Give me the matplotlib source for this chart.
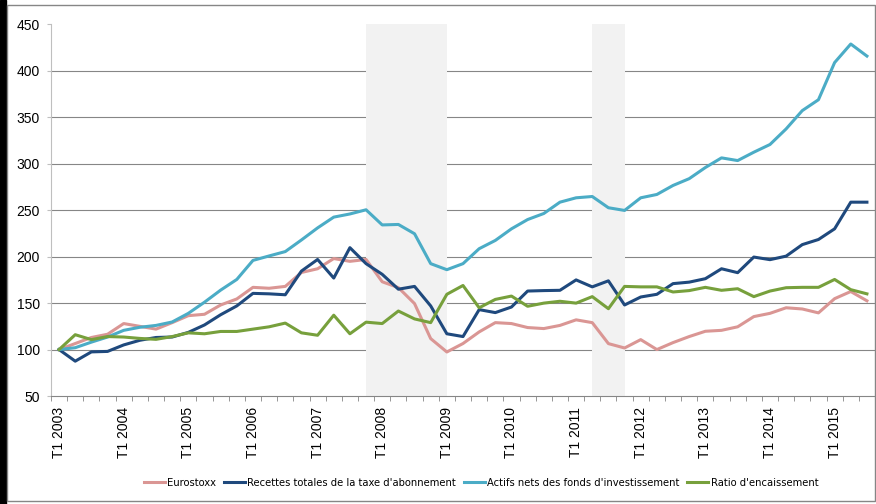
import matplotlib.pyplot as plt
from matplotlib.patches import Rectangle

# Trimestres T1 2003 -> T3 2015
trimestres = [f"T{q} {a}" for a in range(2003, 2016) for q in range(1, 5)][:51]

eurostoxx = [100, 106.5, 113, 116.5, 128, 125, 122, 129, 136.5, 138,
             148, 154.5, 167, 166, 168, 183, 187, 198, 195, 197,
             173, 166.7, 149.5, 111.8, 97.4, 106.5, 119, 129, 128, 123.7,
             122.6, 126, 132, 129, 106.4, 101.7, 110.7, 100, 107.5, 114,
             119.7, 120.7, 124.5, 135.5, 139, 145, 143.7, 139.5, 154.8, 162.5,
             152.5]
recettes = [100, 87.5, 97.5, 98, 105, 110, 113, 113.5, 118.5, 126.5,
            137.5, 147, 160.5, 160, 159, 184.5, 197, 177, 209.7, 192.5,
            181, 165, 168, 147, 117, 114, 143, 139.8, 145.8, 163,
            163.5, 163.8, 175, 167.5, 174, 148, 156.6, 159.5, 171, 172.6,
            176.3, 187, 182.8, 199.6, 196.8, 200.6, 213, 218.5, 230, 258.7,
            258.7]
actifs = [100, 102, 108, 113.5, 120.7, 124, 126, 129.7, 139, 151,
          164, 175.5, 196, 200.8, 205.5, 218, 231, 242.6, 246, 250.5,
          234.2, 234.7, 224.7, 192.5, 186, 192.5, 208.6, 217.5, 230, 240,
          246.5, 258.7, 263.4, 264.8, 252.7, 249.8, 263.4, 267, 276.7, 284,
          296, 306.4, 303.5, 312.5, 320.8, 337.6, 357.3, 369, 409, 429,
          416]
ratio = [100, 116, 110.7, 114, 113.5, 112, 111, 114, 118, 117,
         119.5, 119.5, 122, 124.5, 128.5, 118, 115.4, 137, 117, 129.5,
         128, 141.5, 133, 129, 159.5, 169, 145, 154, 157.6, 146.6,
         150, 152, 150, 157, 144, 168, 167.5, 167.5, 162, 163.5,
         167, 163.8, 165.5, 157, 163, 166.6, 167, 167, 175.5, 164.5,
         160]

# Periodes de crise (index des trimestres)
crises = [(19, 24), (33, 35)]

noms = ["Eurostoxx", "Recettes totales de la taxe d'abonnement",
        "Actifs nets des fonds d'investissement", "Ratio d'encaissement"]
couleurs = ['#DA9694', '#1F497D', '#4BACC6', '#77A03C']

plt.rcParams['font.family'] = ['Liberation Sans', 'DejaVu Sans']

fig = plt.figure(figsize=(8.76, 5.04), dpi=100)
ax = fig.add_axes([51 / 876, 1 - 396 / 504, 824 / 876, 371.5 / 504])

x = list(range(len(trimestres)))

# --- zones grisees ---
for debut, fin in crises:
    ax.axvspan(debut, fin, color='#F2F2F2', lw=0, zorder=1)

# --- series ---
for serie, nom, c in zip([eurostoxx, recettes, actifs, ratio], noms, couleurs):
    ax.plot(x, serie, color=c, lw=2.2, label=nom, zorder=3)

# --- axes ---
ax.set_xlim(-0.5, len(trimestres) - 0.5)
ax.set_ylim(50, 450)
ax.set_yticks(range(50, 451, 50))
ax.set_axisbelow(True)
ax.yaxis.grid(True, color='#868686', lw=0.8)
grid = ax.yaxis.get_gridlines()
grid[0].set_visible(False)
grid[-1].set_visible(False)

ax.set_xticks(x[::4])
ax.set_xticklabels(trimestres[::4], rotation=90, va='top', fontsize=10)
ax.set_xticks([i - 0.5 for i in range(len(trimestres) + 1)], minor=True)
ax.tick_params(axis='x', which='major', length=0, pad=8)
ax.tick_params(axis='x', which='minor', length=3.6, color='#868686')
ax.tick_params(axis='y', length=3, color='#BFBFBF', pad=5, labelsize=10)

for s in ['top', 'right']:
    ax.spines[s].set_visible(False)
ax.spines['left'].set_color('#BFBFBF')
ax.spines['bottom'].set_color('#868686')

# legende en police etroite
leg = fig.legend(loc='center', bbox_to_anchor=(481 / 876, 1 - 483 / 504), ncol=4,
                 frameon=False, handlelength=1.9, handletextpad=0.2,
                 columnspacing=0.7,
                 prop={'family': 'DejaVu Sans', 'stretch': 'condensed', 'size': 8})

# cadre de l'image
fig.patches.append(Rectangle((0, 0), 6 / 876, 1, transform=fig.transFigure,
                             color='black', zorder=0))
fig.patches.append(Rectangle((7 / 876, 3 / 504), 868 / 876, 496 / 504,
                             transform=fig.transFigure, fill=False,
                             edgecolor='#868686', lw=1, zorder=0))

fig.savefig('out.png', dpi=100)
